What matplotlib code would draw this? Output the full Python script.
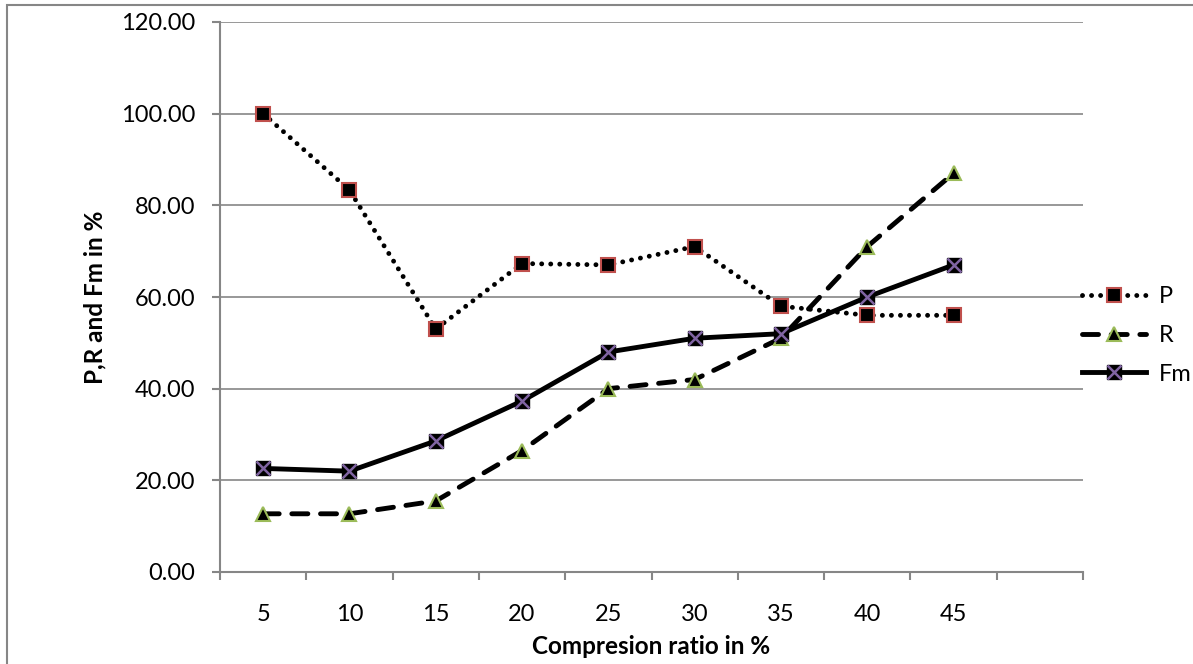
import numpy as np
import matplotlib.pyplot as plt
from matplotlib.patches import Rectangle
from matplotlib.lines import Line2D

plt.rcParams['font.family'] = ['Lato', 'DejaVu Sans']

# categories (the Excel chart keeps one empty slot after 45)
ratios = ["5", "10", "15", "20", "25", "30", "35", "40", "45"]
p_vals = [100.0, 83.33, 53.0, 67.3, 67.0, 71.0, 58.0, 56.0, 56.0]
r_vals = [12.7, 12.7, 15.5, 26.5, 40.0, 42.0, 51.0, 71.0, 87.0]
fm_vals = [22.6, 22.0, 28.6, 37.3, 48.0, 51.0, 52.0, 60.0, 67.0]
n_slots = 10

GRAY = "#868686"

fig = plt.figure(figsize=(11.93, 6.64), dpi=100)
ax = fig.add_axes([220 / 1193, 92 / 664, 863 / 1193, 550 / 664])

x = np.arange(1, len(ratios) + 1)

# P: dotted line, black square with red border
ax.plot(x, p_vals, color="black", lw=3.5, linestyle=(0, (0.01, 1.85)),
        dash_capstyle="round", marker="s", markersize=10,
        markerfacecolor="black", markeredgecolor="#C0504D",
        markeredgewidth=1.5, label="P", zorder=3)

# R: dashed line, black triangle with green border
ax.plot(x, r_vals, color="black", lw=3.5, linestyle=(0, (3.3, 2.6)),
        dash_capstyle="round", marker="^", markersize=10,
        markerfacecolor="black", markeredgecolor="#9BBB59",
        markeredgewidth=1.5, label="R", zorder=4)

# Fm: solid line, black square with purple cross
ax.plot(x, fm_vals, color="black", lw=3.5, marker="s", markersize=10,
        markerfacecolor="black", markeredgecolor="black", zorder=5)
ax.plot(x, fm_vals, linestyle="none", marker="x", markersize=10,
        markeredgecolor="#8064A2", markeredgewidth=1.8, zorder=6)

# axes
ax.set_xlim(0.5, n_slots + 0.5)
ax.set_ylim(0, 120)
ax.set_yticks(np.arange(0, 121, 20))
ax.set_yticklabels([f"{v:.2f}" for v in np.arange(0, 121, 20)])
ax.set_xticks(x)
ax.set_xticklabels(ratios)
ax.set_xticks(np.arange(0.5, n_slots + 1), minor=True)

ax.grid(axis="y", color=GRAY, lw=1.2)
ax.set_axisbelow(True)
for side in ["top", "right"]:
    ax.spines[side].set_visible(False)
for side in ["left", "bottom"]:
    ax.spines[side].set_color(GRAY)
    ax.spines[side].set_linewidth(1.5)

ax.tick_params(axis="y", length=6, width=1.5, color=GRAY, pad=12,
               labelsize=17)
ax.tick_params(axis="x", which="major", length=0, pad=23, labelsize=17)
ax.tick_params(axis="x", which="minor", length=6, width=1.5, color=GRAY)

ax.set_xlabel("Compresion ratio in %", fontsize=17.5, fontweight="bold",
              labelpad=7)
ax.set_ylabel("P,R and Fm in %", fontsize=17.5, fontweight="bold",
              labelpad=10)

# legend outside on the right
fm_handle = (Line2D([], [], color="black", lw=3.5, marker="s", markersize=10,
                    markerfacecolor="black", markeredgecolor="black"),
             Line2D([], [], linestyle="none", marker="x", markersize=10,
                    markeredgecolor="#8064A2", markeredgewidth=1.8))
handles, labels = ax.get_legend_handles_labels()
handles.append(fm_handle)
labels.append("Fm")
ax.legend(handles, labels, loc="center left", bbox_to_anchor=(0.999, 0.43),
          frameon=False, fontsize=17, handlelength=2.7, handletextpad=0.55,
          labelspacing=0.75, borderaxespad=0, borderpad=0)

# chart area border (right and bottom edges are cut off in the original)
fig.patches.append(Rectangle((7 / 1193, -0.1), 1.2, (664 - 5) / 664 + 0.1,
                             transform=fig.transFigure, fill=False,
                             edgecolor=GRAY, lw=1.5))

fig.savefig("out.png", dpi=100)
